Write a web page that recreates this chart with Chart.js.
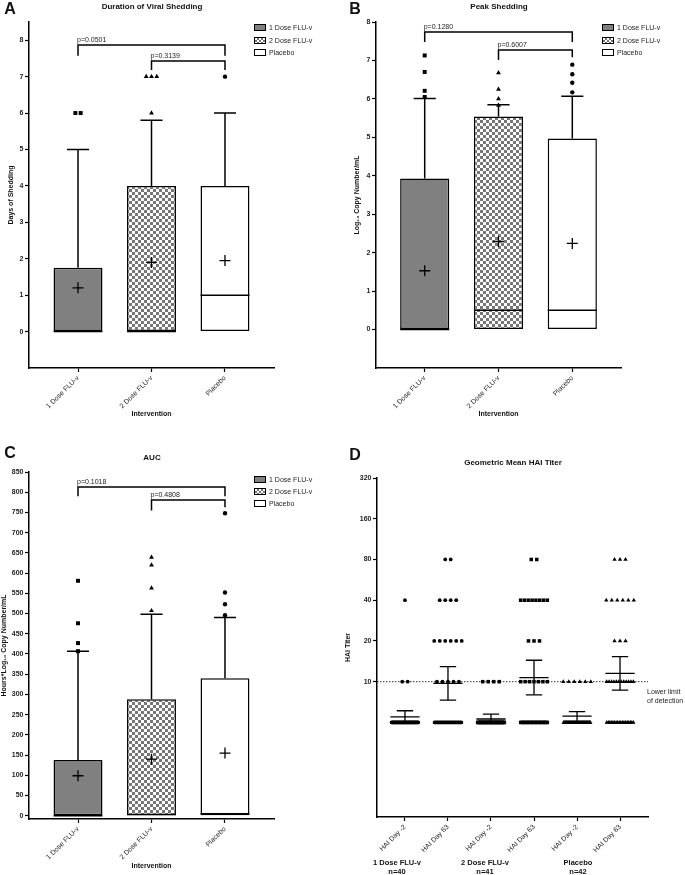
<!DOCTYPE html>
<html lang="en">
<head>
<meta charset="UTF-8">
<title>FLU-v challenge study</title>
<script src="https://cdn.jsdelivr.net/npm/chart.js"></script>
<style>
    body { margin: 0; background: #fff; font-family: "Liberation Sans", Arial, sans-serif; color: #111; }
    #fig { position: relative; width: 685px; height: 875px; overflow: hidden; }
    .panel { position: absolute; }
    .t { position: absolute; transform: translate(-50%, -50%); white-space: nowrap; line-height: 1; }
    .letter { font-size: 16px; font-weight: bold; }
    .title { font-size: 8px; font-weight: bold; }
    .grp { font-size: 7.5px; font-weight: bold; }
    .key { position: absolute; width: 10px; height: 5px; border: 1px solid #000; }
    .ktxt { position: absolute; font-size: 7px; line-height: 1; transform: translateY(-50%); white-space: nowrap; color: #222; }
</style>
</head>
<body>
<div id="fig">
    <div class="panel" style="left:0;top:0"><canvas id="cA" width="342" height="420"></canvas></div>
    <div class="panel" style="left:342px;top:0"><canvas id="cB" width="343" height="420"></canvas></div>
    <div class="panel" style="left:0;top:420px"><canvas id="cC" width="342" height="455"></canvas></div>
    <div class="panel" style="left:342px;top:420px"><canvas id="cD" width="343" height="455"></canvas></div>

    <div class="t letter" style="left:10px;top:9px">A</div>
    <div class="t letter" style="left:355px;top:9px">B</div>
    <div class="t letter" style="left:10px;top:453px">C</div>
    <div class="t letter" style="left:355px;top:455px">D</div>

    <div class="t title" style="left:152px;top:7px">Duration of Viral Shedding</div>
    <div class="t title" style="left:499px;top:7px">Peak Shedding</div>
    <div class="t title" style="left:152px;top:458px">AUC</div>
    <div class="t title" style="left:513px;top:463px">Geometric Mean HAI Titer</div>

    <div class="t grp" style="left:397px;top:863px">1 Dose FLU-v</div>
    <div class="t grp" style="left:397px;top:872px">n=40</div>
    <div class="t grp" style="left:485px;top:863px">2 Dose FLU-v</div>
    <div class="t grp" style="left:485px;top:872px">n=41</div>
    <div class="t grp" style="left:578px;top:863px">Placebo</div>
    <div class="t grp" style="left:578px;top:872px">n=42</div>
</div>

<script>
    Chart.defaults.font.family = '"Liberation Sans", Arial, sans-serif'
    Chart.defaults.color = '#222'

    const groups = ['1 Dose FLU-v', '2 Dose FLU-v', 'Placebo']
    const markerStyles = ['rect', 'triangle', 'circle']
    const markerRadius = [2.8, 2.8, 2.2]

    // A - duration of viral shedding (days)
    const durQ1 = [0, 0, 0]
    const durMedian = [0, 0, 1]
    const durQ3 = [1.75, 4, 4]
    const durWhiskerTop = [5, 5.8, 6]
    const durMean = [1.2, 1.9, 1.95]
    const durOutliers = [[6, 6], [6, 7, 7, 7], [7]]
    const durTicks = [0, 1, 2, 3, 4, 5, 6, 7, 8]
    // [from, to, top, left leg end, right leg end, label]
    const durBrackets = [[0, 2, 7.87, 7.57, 7.57, 'p=0.0501'], [1, 2, 7.43, 7.18, 7.18, 'p=0.3139']]

    // B - peak shedding (log10 copies/mL)
    const peakQ1 = [0, 0, 0]
    const peakMedian = [0, 0.5, 0.5]
    const peakQ3 = [3.93, 5.54, 4.97]
    const peakWhiskerTop = [6.01, 5.85, 6.07]
    const peakMean = [1.53, 2.29, 2.24]
    const peakOutliers = [[7.13, 6.70, 6.21, 6.05], [6.68, 6.25, 6.0, 5.83], [6.89, 6.64, 6.42, 6.17]]
    const peakTicks = [0, 1, 2, 3, 4, 5, 6, 7, 8]
    const peakBrackets = [[0, 2, 7.74, 7.48, 7.48, 'p=0.1280'], [1, 2, 7.27, 7.01, 7.08, 'p=0.6007']]

    // C - AUC (hours*log10 copies/mL)
    const aucQ1 = [0, 0, 0]
    const aucMedian = [0, 3, 5]
    const aucQ3 = [138, 288, 340]
    const aucWhiskerTop = [407, 498, 490]
    const aucMean = [99, 140, 155]
    const aucOutliers = [[581, 476, 427, 407], [639, 620, 563, 507], [748, 552, 523, 496]]
    const aucTicks = [0, 50, 100, 150, 200, 250, 300, 350, 400, 450, 500, 550, 600, 650, 700, 750, 800, 850]
    const aucBrackets = [[0, 2, 813, 790, 790, 'p=0.1018'], [1, 2, 781, 755, 763, 'p=0.4808']]

    // D - HAI titers, 5 = below the limit of detection
    const hiaCats = ['HAI Day -2', 'HAI Day 63', 'HAI Day -2', 'HAI Day 63', 'HAI Day -2', 'HAI Day 63']
    const hiaMarkers = ['circle', 'circle', 'rect', 'rect', 'triangle', 'triangle']
    const hiaLevels = [5, 10, 20, 40, 80]
    const hiaCounts = [
        [37, 2, 0, 1, 0],
        [23, 5, 6, 4, 2],
        [37, 4, 0, 0, 0],
        [21, 7, 3, 8, 2],
        [36, 6, 0, 0, 0],
        [18, 12, 3, 6, 3]
    ]
    const hiaGmt = [5.5, 9.7, 5.3, 10.7, 5.56, 11.5]
    const hiaCiLow = [5.0, 7.3, 5.0, 8.0, 5.0, 8.65]
    const hiaCiHigh = [6.1, 12.9, 5.75, 14.4, 6.0, 15.3]
    const hiaTicks = [10, 20, 40, 80, 160, 320]
    const hiaLod = 10

    function checker(ctx) {
        const tile = document.createElement('canvas')
        tile.width = 6
        tile.height = 6
        const t = tile.getContext('2d')
        t.fillStyle = '#ffffff'
        t.fillRect(0, 0, 6, 6)
        t.fillStyle = '#767676'
        t.fillRect(0, 0, 3, 3)
        t.fillRect(3, 3, 3, 3)
        return ctx.createPattern(tile, 'repeat')
    }

    // polylines given as [x1, y1, x2, y2, ...], broken apart with a null point
    function segments(list) {
        const pts = []
        list.forEach(s => {
            for (let i = 0; i < s.length; i += 2) pts.push({ x: s[i], y: s[i + 1] })
            pts.push({ x: s[0], y: null })
        })
        return pts
    }

    // equal values sit side by side around the group centre
    function spread(values, step) {
        const counts = {}, seen = {}
        values.forEach(v => counts[v] = (counts[v] || 0) + 1)
        return values.map(v => {
            const k = seen[v] = (seen[v] || 0) + 1
            return { off: (k - 1 - (counts[v] - 1) / 2) * step, y: v }
        })
    }

    function line(data, width) {
        return {
            type: 'line', data: data, borderColor: '#000', borderWidth: width || 1.5,
            pointRadius: 0, pointHitRadius: 0, fill: false, spanGaps: false, order: 1
        }
    }

    function axisStyle() {
        return {
            grid: { display: true, drawOnChartArea: false, drawTicks: true, tickLength: 4, tickColor: '#000', tickWidth: 1.2, offset: false },
            border: { display: true, color: '#000', width: 1.5 }
        }
    }

    const pLabels = {
        id: 'pLabels',
        afterDatasetsDraw(chart, args, opts) {
            const { ctx, scales } = chart
            ctx.save()
            ctx.font = '7px "Liberation Sans", Arial, sans-serif'
            ctx.fillStyle = '#222'
            ctx.textAlign = 'left'
            ctx.textBaseline = 'bottom'
            opts.items.forEach(b => {
                ctx.fillText(b[5], scales.x.getPixelForValue(b[0]) - 1, scales.y.getPixelForValue(b[2]) - 1.5)
            })
            ctx.restore()
        }
    }

    function boxChart(id, d) {
        const ctx = document.getElementById(id).getContext('2d')
        const xs = groups.map((g, i) => i)
        const datasets = [
            {
                type: 'bar', data: xs.map(i => ({ x: i, y: [d.q1[i], d.q3[i]] })),
                backgroundColor: ['#808080', checker(ctx), '#ffffff'],
                borderColor: '#000', borderWidth: 1.5, borderSkipped: false,
                categoryPercentage: 1, barPercentage: 0.666, order: 10
            },
            line(segments(xs.map(i => [i - 0.333, d.median[i], i + 0.333, d.median[i]]))),
            line(segments(xs.map(i => [i, d.q3[i], i, d.whisker[i]]))),
            line(segments(xs.map(i => [i - 0.15, d.whisker[i], i + 0.15, d.whisker[i]]))),
            line(segments(d.brackets.map(b => [b[0], b[3], b[0], b[2], b[1], b[2], b[1], b[4]]))),
            {
                type: 'line', showLine: false, order: 0,
                data: xs.map(i => ({ x: i, y: d.mean[i] })),
                pointStyle: 'cross', pointRadius: 5.5, pointBorderWidth: 1.3, pointBorderColor: '#000'
            }
        ]
        xs.forEach(i => {
            datasets.push({
                type: 'line', showLine: false, order: 0,
                data: spread(d.outliers[i], 0.072).map(p => ({ x: i + p.off, y: p.y })),
                pointStyle: markerStyles[i], pointRadius: markerRadius[i],
                pointBackgroundColor: '#000', pointBorderColor: '#000', pointBorderWidth: 0
            })
        })

        return new Chart(ctx, {
            type: 'bar',
            data: { datasets: datasets },
            plugins: [pLabels],
            options: {
                responsive: false,
                animation: false,
                events: [],
                layout: { padding: d.pad },
                plugins: {
                    legend: { display: false },
                    tooltip: { enabled: false },
                    pLabels: { items: d.brackets }
                },
                scales: {
                    x: Object.assign(axisStyle(), {
                        type: 'linear', min: d.xMin, max: d.xMax, offset: false,
                        afterBuildTicks: s => { s.ticks = xs.map(v => ({ value: v })) },
                        afterFit: s => { s.height = d.xh },
                        ticks: { callback: v => groups[v], minRotation: 45, maxRotation: 45, autoSkip: false, padding: 2, color: '#222', font: { size: 7 } },
                        title: { display: true, text: 'Intervention', color: '#111', font: { size: 7, weight: 'bold' }, padding: { top: 0, bottom: d.xtPad } }
                    }),
                    y: Object.assign(axisStyle(), {
                        type: 'linear', min: d.yMin, max: d.yMax,
                        afterBuildTicks: s => { s.ticks = d.ticks.map(v => ({ value: v })) },
                        afterFit: s => { s.width = d.yw },
                        ticks: { autoSkip: false, padding: 1.5, color: '#222', font: { size: 7, weight: 'bold' } },
                        title: { display: true, text: d.yTitle, color: '#111', font: { size: 7, weight: 'bold' }, padding: { top: d.ytPad, bottom: 0 } }
                    })
                }
            }
        })
    }

    boxChart('cA', {
        q1: durQ1, median: durMedian, q3: durQ3, whisker: durWhiskerTop, mean: durMean,
        outliers: durOutliers, ticks: durTicks, brackets: durBrackets,
        yMin: -1, yMax: 8.5, xMin: -0.667, xMax: 2.667,
        pad: { left: 0, top: 22, right: 68, bottom: 0 }, yw: 29, xh: 52, xtPad: 2, ytPad: 7,
        yTitle: 'Days of Shedding'
    })

    boxChart('cB', {
        q1: peakQ1, median: peakMedian, q3: peakQ3, whisker: peakWhiskerTop, mean: peakMean,
        outliers: peakOutliers, ticks: peakTicks, brackets: peakBrackets,
        yMin: -1, yMax: 8, xMin: -0.66, xMax: 2.66,
        pad: { left: 0, top: 22, right: 64, bottom: 0 }, yw: 34, xh: 52, xtPad: 2, ytPad: 11,
        yTitle: 'Log\u2081\u2080 Copy Number/mL'
    })

    boxChart('cC', {
        q1: aucQ1, median: aucMedian, q3: aucQ3, whisker: aucWhiskerTop, mean: aucMean,
        outliers: aucOutliers, ticks: aucTicks, brackets: aucBrackets,
        yMin: -8, yMax: 850, xMin: -0.667, xMax: 2.667,
        pad: { left: 0, top: 52, right: 68, bottom: 0 }, yw: 29, xh: 56, xtPad: 5, ytPad: 0,
        yTitle: 'Hours*Log\u2081\u2080 Copy Number/mL'
    })

    // D - dot plot with geometric mean and 95% CI
    const lodLabel = {
        id: 'lodLabel',
        afterDraw(chart, args, opts) {
            const { ctx, chartArea, scales } = chart
            const y = scales.y.getPixelForValue(opts.value)
            ctx.save()
            ctx.font = '7px "Liberation Sans", Arial, sans-serif'
            ctx.fillStyle = '#222'
            ctx.textAlign = 'left'
            ctx.textBaseline = 'middle'
            opts.lines.forEach((t, i) => ctx.fillText(t, chartArea.right - 1, y + 10 + i * 9))
            ctx.restore()
        }
    }

    const dXMin = -0.65, dXMax = 5.65
    const dxs = hiaCats.map((c, i) => i)
    const dSets = [
        {
            type: 'line', data: [{ x: dXMin, y: hiaLod }, { x: dXMax, y: hiaLod }],
            borderColor: '#333', borderWidth: 1, borderDash: [1.5, 1.5], pointRadius: 0, order: 5
        }
    ]
    dxs.forEach(i => {
        const pts = []
        hiaCounts[i].forEach((n, k) => {
            const step = n > 6 ? 0.62 / (n - 1) : 0.128
            for (let j = 0; j < n; j++) pts.push({ x: i + (j - (n - 1) / 2) * step, y: hiaLevels[k] })
        })
        dSets.push({
            type: 'line', showLine: false, data: pts, order: 2,
            pointStyle: hiaMarkers[i], pointRadius: hiaMarkers[i] === 'circle' ? 1.9 : 2.5,
            pointBackgroundColor: '#000', pointBorderColor: '#000', pointBorderWidth: 0
        })
    })
    dSets.push(line(segments(dxs.map(i => [i - 0.34, hiaGmt[i], i + 0.34, hiaGmt[i]])), 1.3))
    dSets.push(line(segments(dxs.map(i => [i, hiaCiLow[i], i, hiaCiHigh[i]])), 1.3))
    dSets.push(line(segments(dxs.map(i => [i - 0.19, hiaCiHigh[i], i + 0.19, hiaCiHigh[i]])), 1.3))
    dSets.push(line(segments(dxs.map(i => [i - 0.19, hiaCiLow[i], i + 0.19, hiaCiLow[i]])), 1.3))

    new Chart(document.getElementById('cD'), {
        type: 'line',
        data: { datasets: dSets },
        plugins: [lodLabel],
        options: {
            responsive: false,
            animation: false,
            events: [],
            layout: { padding: { left: 0, top: 58, right: 37, bottom: 0 } },
            plugins: {
                legend: { display: false },
                tooltip: { enabled: false },
                lodLabel: { value: hiaLod, lines: ['Lower limit', 'of detection'] }
            },
            scales: {
                x: Object.assign(axisStyle(), {
                    type: 'linear', min: dXMin, max: dXMax, offset: false,
                    afterBuildTicks: s => { s.ticks = dxs.map(v => ({ value: v })) },
                    afterFit: s => { s.height = 58 },
                    ticks: { callback: v => hiaCats[v], minRotation: 45, maxRotation: 45, autoSkip: false, padding: 2, color: '#222', font: { size: 7 } }
                }),
                y: Object.assign(axisStyle(), {
                    type: 'logarithmic', min: 1, max: 320,
                    afterBuildTicks: s => { s.ticks = hiaTicks.map(v => ({ value: v })) },
                    afterFit: s => { s.width = 35 },
                    ticks: { callback: v => String(v), autoSkip: false, padding: 1.5, color: '#222', font: { size: 7, weight: 'bold' } },
                    title: { display: true, text: 'HAI Titer', color: '#111', font: { size: 7, weight: 'bold' }, padding: { top: 2, bottom: 0 } }
                })
            }
        }
    })

    // legends for the box plots
    const fig = document.getElementById('fig')
    const keyFills = ['#808080', 'repeating-conic-gradient(#767676 0 25%, #fff 0 50%) 0 0 / 4px 4px', '#fff']
    function legend(boxX, textX, rowYs) {
        groups.forEach((g, i) => {
            const k = document.createElement('div')
            k.className = 'key'
            k.style.left = boxX + 'px'
            k.style.top = (rowYs[i] - 3.5) + 'px'
            k.style.background = keyFills[i]
            fig.appendChild(k)
            const t = document.createElement('div')
            t.className = 'ktxt'
            t.style.left = textX + 'px'
            t.style.top = rowYs[i] + 'px'
            t.textContent = g
            fig.appendChild(t)
        })
    }
    legend(254, 269, [27, 40, 52])
    legend(602, 617, [27, 40, 52])
    legend(254, 269, [479, 491, 503])
</script>
</body>
</html>
